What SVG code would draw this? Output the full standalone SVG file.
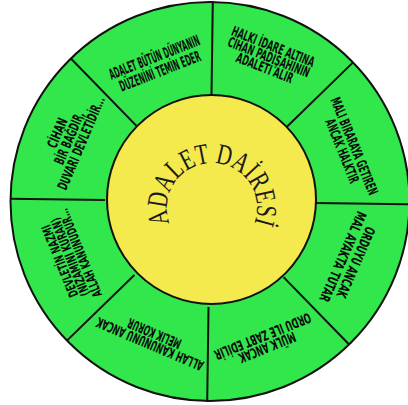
<svg xmlns="http://www.w3.org/2000/svg" width="408" height="405" viewBox="0 0 408 405">
<style>
.ring{fill:#31E74C;stroke:#111;stroke-width:2}
.hub{fill:#F4EA4E;stroke:#111;stroke-width:2}
.div{stroke:#111;stroke-width:2;fill:none}
.t{font-family:"DejaVu Sans","Liberation Sans",sans-serif;font-weight:bold;font-size:14px;fill:#0a0a0a;text-anchor:middle}
.t1{font-size:15px}
.t7{font-size:13px}
.c{font-family:"Liberation Serif","DejaVu Serif",serif;font-size:29px;fill:#1a1a1a}
</style>
<defs>
<path id="arc" d="M169.71,223.39 A45,45 0 1,1 254.29,223.39"/>
</defs>
<g id="outer-ring"><circle class="ring" cx="210" cy="201.5" r="199.5"/></g>
<g id="connectors" transform="rotate(0.8 210 201.5)">
<line class="div" x1="315" y1="201.5" x2="412" y2="201.5"/>
<line class="div" x1="105" y1="201.5" x2="10" y2="201.5"/>
<line class="div" x1="210" y1="96" x2="210" y2="1"/>
<line class="div" x1="210" y1="307" x2="210" y2="402"/>
<line class="div" x1="284.6" y1="126.9" x2="351.1" y2="60.4"/>
<line class="div" x1="135.4" y1="126.9" x2="68.9" y2="60.4"/>
<line class="div" x1="284.6" y1="276.1" x2="351.1" y2="342.6"/>
<line class="div" x1="135.4" y1="276.1" x2="68.9" y2="342.6"/>
</g>
<g id="center"><circle class="hub" cx="211.5" cy="199.5" r="104.5"/>
<text class="c"><textPath href="#arc" textLength="172" lengthAdjust="spacingAndGlyphs">ADALET DAİRESİ</textPath></text></g>
<g id="s1" transform="translate(157 64) rotate(-21.5)">
<text class="t t1" y="-2" textLength="96" lengthAdjust="spacingAndGlyphs">ADALET BÜTÜN DÜNYANIN</text>
<text class="t t1" y="13" textLength="86" lengthAdjust="spacingAndGlyphs">DÜZENİNİ TEMİN EDER</text>
</g>
<g id="s2" transform="translate(269 57) rotate(21.5)">
<text class="t" y="-6.4" textLength="88" lengthAdjust="spacingAndGlyphs">HALKI İDARE ALTINA</text>
<text class="t" y="5.1" textLength="87" lengthAdjust="spacingAndGlyphs">CİHAN PADİŞAHININ</text>
<text class="t" y="16.6" textLength="60" lengthAdjust="spacingAndGlyphs">ADALETİ ALIR</text>
</g>
<g id="s3" transform="translate(348.5 148.5) rotate(68)">
<text class="t" y="-1.4" textLength="104" lengthAdjust="spacingAndGlyphs">MALI BIRARAYA GETIREN</text>
<text class="t" y="11.6" textLength="68" lengthAdjust="spacingAndGlyphs">ANCAK HALKTIR</text>
</g>
<g id="s4" transform="translate(349.5 259.5) rotate(113.5)">
<text class="t" y="-1.9" textLength="76" lengthAdjust="spacingAndGlyphs">ORDUYU ANCAK</text>
<text class="t" y="12.1" textLength="97" lengthAdjust="spacingAndGlyphs">MAL AYAKTA TUTAR</text>
</g>
<g id="s5" transform="translate(265 342) rotate(158)">
<text class="t" y="-0.9" textLength="60" lengthAdjust="spacingAndGlyphs">MÜLK ANCAK</text>
<text class="t" y="11.1" textLength="103" lengthAdjust="spacingAndGlyphs">ORDU İLE ZABT EDİLİR</text>
</g>
<g id="s6" transform="translate(152 339) rotate(203)">
<text class="t" y="-0.6" textLength="115" lengthAdjust="spacingAndGlyphs">ALLAH KANUNUNU ANCAK</text>
<text class="t" y="10.9" textLength="57" lengthAdjust="spacingAndGlyphs">MELİK KORUR</text>
</g>
<g id="s7" transform="translate(70 257) rotate(248)">
<text class="t t7" y="-6.3" textLength="77" lengthAdjust="spacingAndGlyphs">DEVLETİN NAZMI</text>
<text class="t t7" y="4.7" textLength="83" lengthAdjust="spacingAndGlyphs">(NİZAMINI KURAN)</text>
<text class="t t7" y="15.7" textLength="94" lengthAdjust="spacingAndGlyphs">ALLAH KANUNUDUR...</text>
</g>
<g id="s8" transform="translate(69 138) rotate(293)">
<text class="t" y="-7.9" textLength="31" lengthAdjust="spacingAndGlyphs">CİHAN</text>
<text class="t" y="5.1" textLength="56" lengthAdjust="spacingAndGlyphs">BİR BAĞDIR,</text>
<text class="t" y="18.1" textLength="100" lengthAdjust="spacingAndGlyphs">DUVARI DEVLETİDİR...</text>
</g>
</svg>
